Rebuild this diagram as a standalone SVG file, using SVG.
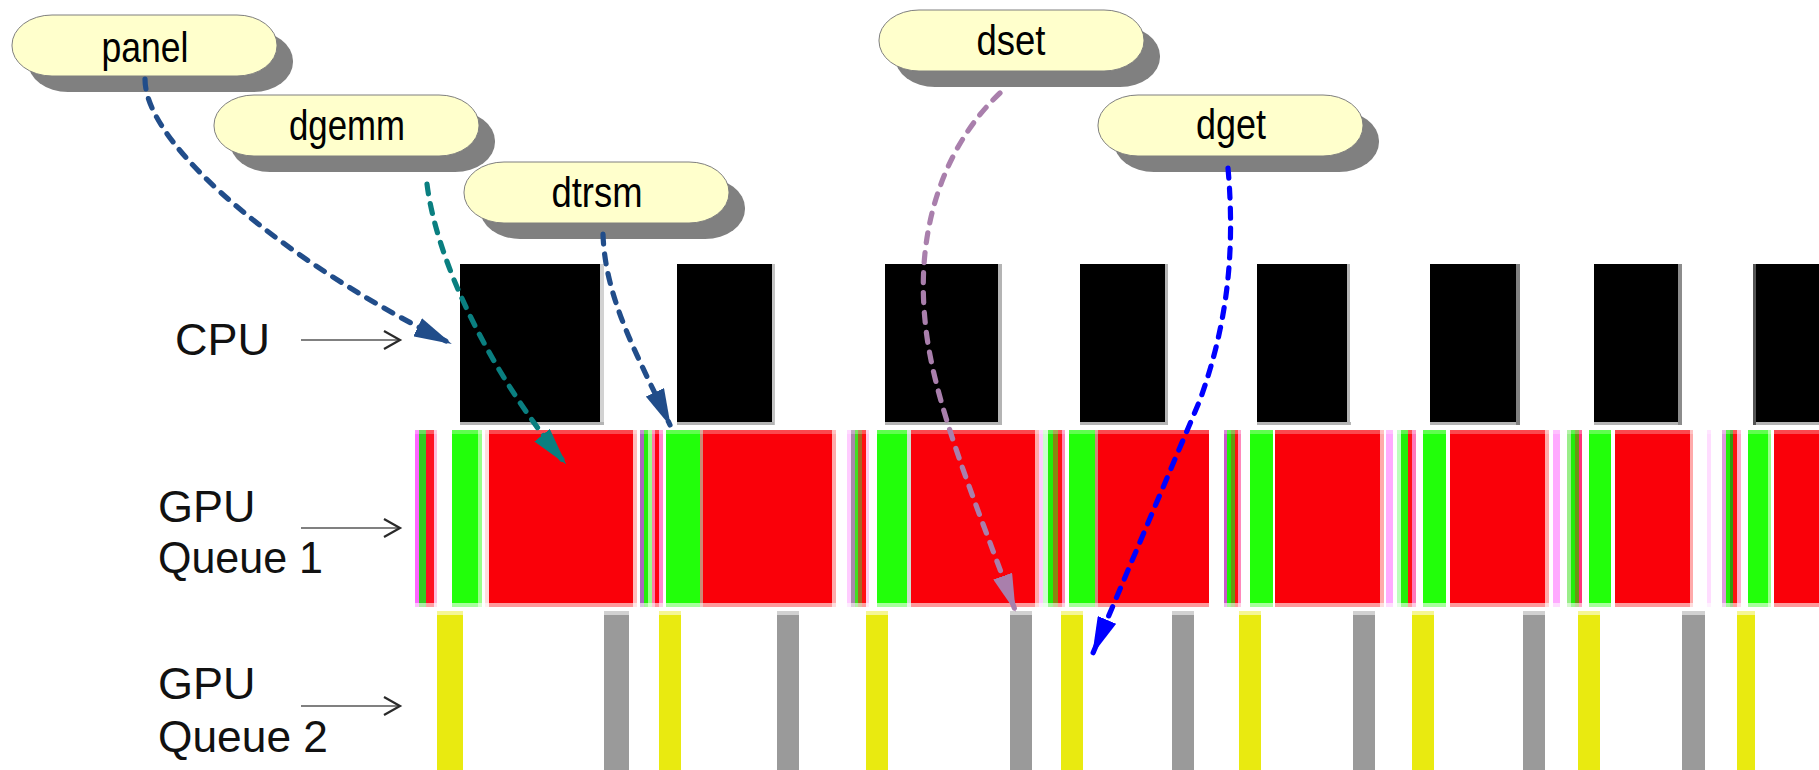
<svg xmlns="http://www.w3.org/2000/svg" width="1819" height="770" viewBox="0 0 1819 770">
  <style>
    .pill { fill: #ffffcc; stroke: #7f7f7f; stroke-width: 1; }
    .shadow { fill: #808080; }
    .ptext { font-family: "Liberation Sans Narrow", "Liberation Sans", Arial, sans-serif; font-size: 43px; fill: #000; text-anchor: middle; }
    .lbl { font-family: "Liberation Sans", Arial, sans-serif; font-size: 45px; fill: #111; }
    .cpu { fill: #000; }
    .cpuedge { fill: #b4b4b4; }
    .red { fill: #fa0009; }
    .grn { fill: #22ff0a; }
    .yel { fill: #e9ea10; }
    .gry { fill: #9a9a9a; }
    .tick { stroke: #808080; stroke-width: 2.2; fill: none; }
    .tickhead { stroke: #2a2a2a; stroke-width: 2.2; fill: none; }
    .conn { fill: none; stroke-width: 5.2; stroke-dasharray: 10 10; stroke-linecap: round; }
  </style>
  <defs>
    <marker id="headNavy" markerUnits="userSpaceOnUse" viewBox="0 0 38 20" markerWidth="38" markerHeight="20" refX="36" refY="10" orient="auto">
      <path d="M0,0 L38,10 L0,20 Z" fill="#214d8a"/>
    </marker>
    <marker id="headTeal" markerUnits="userSpaceOnUse" viewBox="0 0 38 20" markerWidth="38" markerHeight="20" refX="36" refY="10" orient="auto">
      <path d="M0,0 L38,10 L0,20 Z" fill="#0a7f80"/>
    </marker>
    <marker id="headMauve" markerUnits="userSpaceOnUse" viewBox="0 0 38 20" markerWidth="38" markerHeight="20" refX="36" refY="10" orient="auto">
      <path d="M0,0 L38,10 L0,20 Z" fill="#a97fac"/>
    </marker>
    <marker id="headBlue" markerUnits="userSpaceOnUse" viewBox="0 0 38 20" markerWidth="38" markerHeight="20" refX="36" refY="10" orient="auto">
      <path d="M0,0 L38,10 L0,20 Z" fill="#0000ff"/>
    </marker>
  </defs>

  <rect x="0" y="0" width="1819" height="770" fill="#ffffff"/>

  <!-- row labels with small arrows -->
  <g id="row-labels">
    <text class="lbl" x="175" y="355">CPU</text>
    <path class="tick" d="M301,340 H399"/>
    <path class="tickhead" d="M384,331 L400,340 L384,349"/>

    <text class="lbl" x="158" y="522">GPU</text>
    <text class="lbl" x="158" y="573" textLength="165" lengthAdjust="spacingAndGlyphs">Queue 1</text>
    <path class="tick" d="M301,528 H399"/>
    <path class="tickhead" d="M384,519 L400,528 L384,537"/>

    <text class="lbl" x="158" y="699">GPU</text>
    <text class="lbl" x="158" y="752" textLength="170" lengthAdjust="spacingAndGlyphs">Queue 2</text>
    <path class="tick" d="M301,706 H399"/>
    <path class="tickhead" d="M384,697 L400,706 L384,715"/>
  </g>

  <!-- CPU timeline blocks -->
  <g id="cpu-row">
    <rect class="cpu" x="460" y="264" width="140" height="158"/>
    <rect class="cpuedge" x="460" y="422" width="144" height="3"/><rect class="cpuedge" x="600" y="264" width="4" height="161" opacity="0.6"/>
    <rect class="cpu" x="677" y="264" width="95" height="158"/>
    <rect class="cpuedge" x="677" y="422" width="97" height="3"/><rect class="cpuedge" x="772" y="264" width="3" height="161" opacity="0.8"/>
    <rect class="cpu" x="885" y="264" width="115" height="158"/>
    <rect class="cpuedge" x="885" y="422" width="117" height="3"/><rect class="cpuedge" x="998" y="264" width="4" height="161"/>
    <rect class="cpu" x="1080" y="264" width="86" height="158"/>
    <rect class="cpuedge" x="1080" y="422" width="88" height="3"/><rect class="cpuedge" x="1165" y="264" width="3" height="161"/>
    <rect class="cpu" x="1257" y="264" width="92" height="158"/>
    <rect class="cpuedge" x="1257" y="422" width="94" height="3"/><rect class="cpuedge" x="1347" y="264" width="3" height="161"/>
    <rect class="cpu" x="1430" y="264" width="88" height="158"/>
    <rect class="cpuedge" x="1430" y="422" width="90" height="3"/><rect x="1516" y="264" width="4" height="161" fill="#808080"/>
    <rect class="cpu" x="1594" y="264" width="86" height="158"/>
    <rect class="cpuedge" x="1594" y="422" width="88" height="3"/><rect x="1678" y="264" width="4" height="161" fill="#8c8c8c"/>
    <rect class="cpu" x="1753" y="264" width="66" height="158"/>
    <rect class="cpuedge" x="1753" y="422" width="66" height="3"/><rect x="1753" y="264" width="3" height="161" fill="#555555"/>
  </g>

  <!-- GPU queue 1 timeline -->
  <g id="gpu-queue-1">
    <rect x="415" y="430" width="4" height="177" fill="#ff66ff"/>
    <rect x="419" y="430" width="7" height="177" fill="#33cc22"/>
    <rect x="426" y="430" width="8" height="177" fill="#ff1122"/>
    <rect x="434" y="430" width="3" height="177" fill="#ffbbdd"/>
    <rect class="grn" x="452" y="430" width="26" height="177"/>
    <rect x="478" y="430" width="4" height="177" fill="#99ff88"/>
    <rect x="485" y="430" width="4" height="177" fill="#ffdddd"/>
    <rect class="red" x="489" y="430" width="144" height="177"/>
    <rect x="633" y="430" width="4" height="177" fill="#ffbbbb"/>

    <rect x="640" y="430" width="4" height="177" fill="#aa66bb"/>
    <rect x="644" y="430" width="4" height="177" fill="#22ee0a"/>
    <rect x="648" y="430" width="4" height="177" fill="#99ff88"/>
    <rect x="652" y="430" width="3" height="177" fill="#ff77aa"/>
    <rect x="655" y="430" width="4" height="177" fill="#ff0011"/>
    <rect x="659" y="430" width="4" height="177" fill="#ff88cc"/>
    <rect class="grn" x="666" y="430" width="34" height="177"/>
    <rect x="700" y="430" width="3" height="177" fill="#cc8877"/>
    <rect class="red" x="703" y="430" width="129" height="177"/>
    <rect x="832" y="430" width="4" height="177" fill="#ffaaaa"/>

    <rect x="847" y="430" width="4" height="177" fill="#ffccff"/>
    <rect x="851" y="430" width="4" height="177" fill="#aa88aa"/>
    <rect x="855" y="430" width="3" height="177" fill="#44dd22"/>
    <rect x="858" y="430" width="4" height="177" fill="#aa6622"/>
    <rect x="862" y="430" width="4" height="177" fill="#ff1111"/>
    <rect x="866" y="430" width="3" height="177" fill="#ffccee"/>
    <rect class="grn" x="877" y="430" width="30" height="177"/>
    <rect x="907" y="430" width="4" height="177" fill="#ccddcc"/>
    <rect class="red" x="911" y="430" width="124" height="177"/>
    <rect x="1035" y="430" width="4" height="177" fill="#ffaaaa"/>

    <rect x="1039" y="430" width="4" height="177" fill="#ffccff"/>
    <rect x="1043" y="430" width="5" height="177" fill="#ccffcc"/>
    <rect x="1048" y="430" width="5" height="177" fill="#22ee0a"/>
    <rect x="1053" y="430" width="5" height="177" fill="#888811"/>
    <rect x="1058" y="430" width="4" height="177" fill="#ff1111"/>
    <rect x="1062" y="430" width="3" height="177" fill="#ff88bb"/>
    <rect class="grn" x="1069" y="430" width="26" height="177"/>
    <rect x="1095" y="430" width="3" height="177" fill="#cc8877"/>
    <rect class="red" x="1098" y="430" width="111" height="177"/>

    <rect x="1224" y="430" width="3" height="177" fill="#cc55cc"/>
    <rect x="1227" y="430" width="4" height="177" fill="#22ee0a"/>
    <rect x="1231" y="430" width="4" height="177" fill="#669911"/>
    <rect x="1235" y="430" width="3" height="177" fill="#ff1111"/>
    <rect x="1238" y="430" width="3" height="177" fill="#ff88bb"/>
    <rect class="grn" x="1250" y="430" width="23" height="177"/>
    <rect class="red" x="1275" y="430" width="105" height="177"/>
    <rect x="1380" y="430" width="4" height="177" fill="#ffaaaa"/>

    <rect x="1386" y="430" width="7" height="177" fill="#ffaaff"/>
    <rect x="1397" y="430" width="4" height="177" fill="#bbffbb"/>
    <rect x="1401" y="430" width="7" height="177" fill="#22ee0a"/>
    <rect x="1408" y="430" width="4" height="177" fill="#ff1111"/>
    <rect x="1412" y="430" width="4" height="177" fill="#ff77bb"/>
    <rect class="grn" x="1423" y="430" width="23" height="177"/>
    <rect class="red" x="1450" y="430" width="95" height="177"/>
    <rect x="1545" y="430" width="4" height="177" fill="#ffaaaa"/>

    <rect x="1553" y="430" width="7" height="177" fill="#ffaaff"/>
    <rect x="1567" y="430" width="4" height="177" fill="#99ee88"/>
    <rect x="1571" y="430" width="4" height="177" fill="#22ee0a"/>
    <rect x="1575" y="430" width="4" height="177" fill="#669911"/>
    <rect x="1579" y="430" width="3" height="177" fill="#ff3377"/>
    <rect class="grn" x="1589" y="430" width="22" height="177"/>
    <rect class="red" x="1615" y="430" width="75" height="177"/>
    <rect x="1690" y="430" width="3" height="177" fill="#ffaaaa"/>

    <rect x="1707" y="430" width="4" height="177" fill="#ffddff"/>
    <rect x="1722" y="430" width="4" height="177" fill="#dd99dd"/>
    <rect x="1726" y="430" width="4" height="177" fill="#22ee0a"/>
    <rect x="1730" y="430" width="3" height="177" fill="#339911"/>
    <rect x="1733" y="430" width="4" height="177" fill="#ff1111"/>
    <rect x="1737" y="430" width="4" height="177" fill="#ffaacc"/>
    <rect class="grn" x="1748" y="430" width="20" height="177"/>
    <rect x="1768" y="430" width="3" height="177" fill="#99ff88"/>
    <rect class="red" x="1774" y="430" width="45" height="177"/>

    <!-- soft top and bottom rims of the row -->
    <rect x="400" y="430" width="1419" height="4" fill="#ffffff" opacity="0.28"/>
    <rect x="400" y="603" width="1419" height="4" fill="#ffffff" opacity="0.6"/>
  </g>

  <!-- GPU queue 2 timeline -->
  <g id="gpu-queue-2">
    <rect class="yel" x="437" y="611" width="26" height="159"/>
    <rect class="gry" x="604" y="611" width="25" height="159"/>
    <rect class="yel" x="659" y="611" width="22" height="159"/>
    <rect class="gry" x="777" y="611" width="22" height="159"/>
    <rect class="yel" x="866" y="611" width="22" height="159"/>
    <rect class="gry" x="1010" y="611" width="22" height="159"/>
    <rect class="yel" x="1061" y="611" width="22" height="159"/>
    <rect class="gry" x="1172" y="611" width="22" height="159"/>
    <rect class="yel" x="1239" y="611" width="22" height="159"/>
    <rect class="gry" x="1353" y="611" width="22" height="159"/>
    <rect class="yel" x="1412" y="611" width="22" height="159"/>
    <rect class="gry" x="1523" y="611" width="22" height="159"/>
    <rect class="yel" x="1578" y="611" width="22" height="159"/>
    <rect class="gry" x="1682" y="611" width="23" height="159"/>
    <rect class="yel" x="1737" y="611" width="18" height="159"/>
    <rect x="400" y="611" width="1419" height="4" fill="#ffffff" opacity="0.55"/>
  </g>

  <!-- callout nodes -->
  <g id="node-panel">
    <rect class="shadow" x="28" y="31" width="265" height="61" rx="40" ry="30"/>
    <rect class="pill" x="12" y="15" width="265" height="61" rx="40" ry="30"/>
    <text class="ptext" x="145" y="62" textLength="87" lengthAdjust="spacingAndGlyphs">panel</text>
  </g>
  <g id="node-dgemm">
    <rect class="shadow" x="230" y="111" width="265" height="61" rx="40" ry="30"/>
    <rect class="pill" x="214" y="95" width="265" height="61" rx="40" ry="30"/>
    <text class="ptext" x="347" y="140" textLength="116" lengthAdjust="spacingAndGlyphs">dgemm</text>
  </g>
  <g id="node-dtrsm">
    <rect class="shadow" x="480" y="178" width="265" height="61" rx="40" ry="30"/>
    <rect class="pill" x="464" y="162" width="265" height="61" rx="40" ry="30"/>
    <text class="ptext" x="597" y="207" textLength="91" lengthAdjust="spacingAndGlyphs">dtrsm</text>
  </g>
  <g id="node-dset">
    <rect class="shadow" x="895" y="26" width="265" height="61" rx="40" ry="30"/>
    <rect class="pill" x="879" y="10" width="265" height="61" rx="40" ry="30"/>
    <text class="ptext" x="1011" y="55" textLength="69" lengthAdjust="spacingAndGlyphs">dset</text>
  </g>
  <g id="node-dget">
    <rect class="shadow" x="1114" y="111" width="265" height="61" rx="40" ry="30"/>
    <rect class="pill" x="1098" y="95" width="265" height="61" rx="40" ry="30"/>
    <text class="ptext" x="1231" y="139" textLength="70" lengthAdjust="spacingAndGlyphs">dget</text>
  </g>

  <!-- dashed connectors from callouts to the timeline -->
  <g id="connectors">
    <path class="conn" stroke="#214d8a" marker-end="url(#headNavy)" d="M145,79 C145,150 300,270 450,343"/>
    <path class="conn" stroke="#0a7f80" marker-end="url(#headTeal)" d="M427,184 C435,250 480,360 565,463"/>
    <path class="conn" stroke="#214d8a" marker-end="url(#headNavy)" d="M603,234 C605,300 640,360 670,425"/>
    <path class="conn" stroke="#a97fac" marker-end="url(#headMauve)" d="M1000,93 C950,140 915,220 925,320 C932,400 975,500 1015,610"/>
    <path class="conn" stroke="#0000ff" marker-end="url(#headBlue)" d="M1228,168 C1236,260 1225,330 1200,400 L1093,653"/>
  </g>
</svg>
